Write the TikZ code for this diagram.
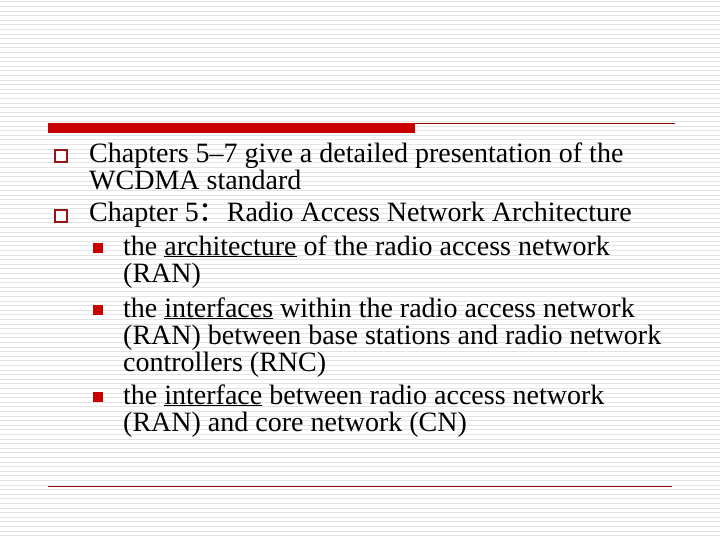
\documentclass[tikz,border=0pt]{standalone}
\usepackage{fontspec}
\setmainfont{Liberation Serif}
\newfontfamily\cjk{Noto Sans CJK SC}
\definecolor{bar}{RGB}{200,0,0}
\definecolor{dred}{RGB}{150,20,20}
\begin{document}
\begin{tikzpicture}[x=1pt,y=-1pt,
  txt/.style={anchor=base west,inner sep=0,font=\fontsize{28}{30}\selectfont},
  hb/.style={draw=dred,line width=2pt,fill=white},
  fb/.style={fill=bar}]
\useasboundingbox (0,0) rectangle (720,540);
\fill[white] (0,0) rectangle (720,540);
\foreach \i in {0,...,117} \draw[gray!22,line width=1pt] (0,\i*4.6+2) -- (720,\i*4.6+2);
\fill[bar] (48,123) rectangle (415,133);
\draw[bar!80!black,line width=0.8pt] (415,123.5) -- (675,123.5);
\draw[dred,line width=0.8pt] (48,486) -- (672,486);
\draw[hb] (55,150) rectangle (67,162);
\draw[hb] (55,210) rectangle (67,222);
\fill[fb] (93,243) rectangle (103,253);
\fill[fb] (93,305) rectangle (103,315);
\fill[fb] (93,392) rectangle (103,402);
\node[txt] (l1) at (89,163) {Chapters 5–7 give a detailed presentation of the};
\node[txt] (l2) at (89,190) {WCDMA standard};
\node[txt] (l3) at (89,222) {Chapter 5{\cjk ：}Radio Access Network Architecture};
\node[txt] (l4) at (123,255) {the \underline{architecture} of the radio access network};
\node[txt] (l5) at (123,282) {(RAN)};
\node[txt] (l6) at (123,317) {the \underline{interfaces} within the radio access network};
\node[txt] (l7) at (123,344) {(RAN) between base stations and radio network};
\node[txt] (l8) at (123,371) {controllers (RNC)};
\node[txt] (l9) at (123,404) {the \underline{interface} between radio access network};
\node[txt] (l10) at (123,431) {(RAN) and core network (CN)};
\end{tikzpicture}
\end{document}
